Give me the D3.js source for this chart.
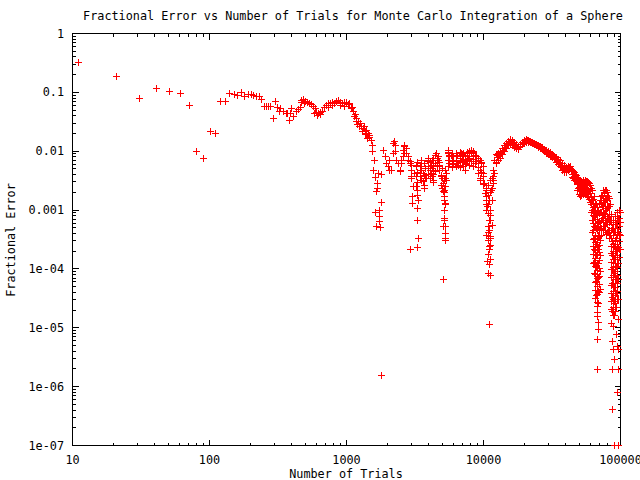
<!DOCTYPE html>
<html><head><meta charset="utf-8">
<script src="https://cdn.jsdelivr.net/npm/d3@7"></script>
<style>
body{margin:0;background:#fff}
svg{display:block}
text{font-family:"DejaVu Sans Mono","Liberation Mono",monospace;font-size:11.8px;fill:#000}
</style>
</head><body>
<svg id="chart" width="640" height="480"></svg>
<script>
const chartTitle = "Fractional Error vs Number of Trials for Monte Carlo Integration of a Sphere";
const xTitle = "Number of Trials";
const yTitle = "Fractional Error";
const xTickValues = [10, 100, 1000, 10000, 100000];
const xTickLabels = ["10", "100", "1000", "10000", "100000"];
const yTickValues = [1, 0.1, 0.01, 0.001, 1e-4, 1e-5, 1e-6, 1e-7];
const yTickLabels = ["1", "0.1", "0.01", "0.001", "1e-04", "1e-05", "1e-06", "1e-07"];

// [trials, fractional error]
const sparseRun = [[11,0.318],[21,0.185],[31,0.078],[41,0.116],[51,0.103],[61,0.095],[71,0.0595],[81,0.0100],[91,0.0076],[101,0.0218],[111,0.020],[121,0.0696],[131,0.0696],[141,0.095],[151,0.0925],[161,0.089],[171,0.099],[181,0.0855],[191,0.0925],[201,0.0925],[211,0.088],[221,0.0855],[231,0.0855],[241,0.075],[251,0.0572],[261,0.0572],[271,0.0572],[281,0.0572],[292,0.0358],[302,0.0696],[313,0.0563],[323,0.0482],[331,0.0542],[346,0.0471],[362,0.0435],[374,0.0435],[382,0.0331],[391,0.0435],[398,0.0529],[412,0.0387],[428,0.0482],[443,0.0521],[458,0.0563],[468,0.0677],[484,0.075]];

const humpRun = [[471,0.0732],[490,0.0643],[501,0.0712],[517,0.0685],[535,0.0643],[553,0.0626],[572,0.0579],[586,0.0435],[592,0.0529],[606,0.0453],[612,0.0408],[627,0.0435],[641,0.0416],[648,0.0453],[670,0.0482],[693,0.055],[717,0.0609],[733,0.0557],[741,0.0643],[767,0.0659],[784,0.059],[793,0.0677],[820,0.0659],[848,0.0712],[877,0.0732],[897,0.0602],[907,0.0677],[938,0.0643],[960,0.0579],[970,0.0677],[1003,0.0677],[1038,0.0626],[1060,0.0651],[1097,0.0563]];

const descentRun = [[1121,0.0464],[1154,0.0424],[1187,0.0358],[1213,0.0281],[1219,0.0322],[1255,0.0295],[1291,0.0265],[1326,0.0243],[1342,0.0265],[1365,0.0218],[1404,0.020],[1411,0.0227],[1443,0.0202],[1460,0.0173],[1484,0.0187],[1527,0.0154],[1542,0.0126],[1542,0.00973],[1595,0.00704],[1569,0.00476],[1633,0.00358],[1690,0.00284],[1680,0.00233],[1661,0.00204],[1795,0.00135],[1623,0.000925],[1756,0.001],[1756,0.00077],[1736,0.000634],[1642,0.000536],[1765,0.000509],[1795,1.54e-6],[1706,0.00419],[1807,0.00408],
[1079,0.0536],[1136,0.0392],[1193,0.0322],[1237,0.0265],[1300,0.0218],[1366,0.0194],[1435,0.0166]];

const clusterRun = [[1856,0.0104],[1910,0.0080],[1966,0.0062],[2020,0.00542],[2077,0.00464],[2077,0.00704],[2138,0.00476],[2196,0.0135],[2196,0.00914],[2222,0.0144],[2260,0.0126],[2260,0.00973],[2325,0.00704],[2388,0.0062],[2458,0.00476],[2458,0.00446],[2529,0.00704],[2529,0.0062],[2598,0.0104],[2598,0.0080],[2673,0.0126],[2673,0.0118],[2673,0.00914],[2750,0.0111],[2750,0.00914],[2825,0.0080],[2825,0.00704],[2908,0.00659],[2908,0.0062],[2990,0.00579],[2990,0.00476],[2990,0.00367],[2990,0.00345],[3074,0.00248],[3040,0.00168],[3040,0.0013],[2956,0.00021],[3162,0.00419],[3253,0.00579],[3253,0.00367],[3286,0.00218],[3344,0.00148],[3286,0.00107],[3286,0.000677],[3344,0.000331],[3286,0.000233]];

const midRun = [[3440,0.00419],[3540,0.0062],[3637,0.00419],[3637,0.00302],[3740,0.00233],[3850,0.00345],[3955,0.00659],[3955,0.00704],[4070,0.00542],[4190,0.00419],[4190,0.00579],[4300,0.00322],[4300,0.00476],[4430,0.0062],[4555,0.00914],[4680,0.00704],[4680,0.008],[4810,0.00542],[4810,0.00579],[4950,0.00367],[4950,0.00392],[4950,0.00265],[5090,0.00284],[5090,0.00204],[5150,0.00218],[5170,0.00168],[5170,0.00148],[5240,0.0013],[5240,0.00126],[5170,0.000659],[5240,0.000521],[5090,0.000521],[5240,0.000403],[5300,0.000331],[5240,0.00031],[5090,6.69e-5],[5390,0.00322],[5390,0.00419],[5530,0.0104],[5530,0.00704],[5530,0.00914],[5690,0.008],[5860,0.00855],[6020,0.0062],[6020,0.00659],[6370,0.008],[6370,0.00542],[6550,0.00579],[6740,0.00752],[6930,0.00914],[7120,0.00659],[7120,0.00855],[7330,0.00476],[7540,0.0062],[7745,0.00752],[7970,0.00914],[8200,0.0104],[8420,0.008],[8420,0.00973],[8670,0.0062],[8920,0.00659],[8920,0.008],[9160,0.00419],[9430,0.00322],[9700,0.0062],[9970,0.00419],
[3216,0.00557],[3216,0.00377],[3216,0.00255],[3325,0.00651],[3325,0.00441],[3325,0.00298],[3325,0.0018],[3440,0.00557],[3440,0.00377],[3557,0.00704],[3557,0.00476],[3557,0.00322],[3680,0.00626],[3680,0.00392],[3680,0.00265],[3800,0.00515],[3800,0.00349],[3940,0.00761],[3940,0.00557],[3940,0.00408],[4070,0.00651],[4070,0.00476],[4070,0.00349],[4210,0.00704],[4210,0.00515],[4210,0.00377],[4350,0.00761],[4350,0.00557],[4350,0.00408],[4350,0.00298],[4500,0.00855],[4500,0.00626],[4500,0.00458],[4650,0.00761],[4650,0.00557],[4810,0.00651],[4810,0.00476],[4980,0.00515],[4980,0.00349],[4980,0.00236],[5150,0.00322],[5150,0.00202],[5150,0.00148],[5150,0.001],[5150,0.000732],[5320,0.00476],[5320,0.00349],[5320,0.00255],[5510,0.00962],[5510,0.00704],[5510,0.00557],[5690,0.00855],[5690,0.00626],[5890,0.00925],[5890,0.00704],[5890,0.00536],[6090,0.00823],[6090,0.00602],[6300,0.00925],[6300,0.00677],[6300,0.00557],[6510,0.00855],[6510,0.00626],[6740,0.00962],[6740,0.00704],[6740,0.00536],[6970,0.00889],[6970,0.00651],[7200,0.00925],[7200,0.00732],[7200,0.00557],[7450,0.00823],[7450,0.00602],[7700,0.00962],[7700,0.00704],[7970,0.0100],[7970,0.00761],[7970,0.00579],[8240,0.00925],[8240,0.00677],[8520,0.00962],[8520,0.00732],[8520,0.00557],[8810,0.00855],[8810,0.00626],[9120,0.00761],[9120,0.00536],[9120,0.00424],[9430,0.00704],[9430,0.00476],[9430,0.00349],[9750,0.00651],[9750,0.00441],[10080,0.00557],[10080,0.00377],[10080,0.00276]];

const dipRun = [[10250,0.00284],[10380,0.00192],[10550,0.00148],[10730,0.00114],[10840,0.000879],[10970,0.000677],[10840,0.000521],[11150,0.000458],[11340,0.000353],[10970,0.000239],[11340,0.000255],[10840,0.000173],[10730,0.000133],[11340,0.000142],[10840,8.45e-5],[11340,7.7e-5],[11150,1.12e-5],[11480,0.00218],[11790,0.00284],[11790,0.00367],[12130,0.00419],[12130,0.00704],[12480,0.0062],[12700,0.00855],[10600,0.00218],[11150,0.00148],[10430,0.001],[11340,0.000823],[10600,0.000377],[11150,0.00021],[10970,0.000117],
[10430,0.00236],[10430,0.00173],[10430,0.00126],[10790,0.00265],[10790,0.0018],[10790,0.00122],[10790,0.000424],[10790,0.00031],[11160,0.00322],[11160,0.00202],[11160,0.001],[11160,0.000677],[11160,0.000335],[11540,0.00349],[11540,0.00236],[11540,0.00148],[11540,0.000557],[11930,0.00476],[11930,0.00322]];

const riseRun = [[12340,0.00889],[12340,0.00651],[12760,0.00925],[12760,0.00704],[13200,0.0100],[13200,0.00761],[13650,0.0112],[13650,0.00889],[14120,0.0126],[14120,0.0100],[14600,0.0137],[14600,0.0112],[15100,0.0148],[15100,0.0126],[15620,0.0160],[15620,0.0131],[16150,0.0154],[16150,0.0126],[16700,0.0142],[16700,0.0117],[17270,0.0131],[17270,0.0112],[17860,0.0117],[17860,0.0108],[18470,0.0131],[18470,0.0122],[19100,0.0142],[19100,0.0131],[19760,0.0154],[19760,0.0137],[20430,0.0160],[20430,0.0142],[21130,0.0154],[21130,0.0142],[21850,0.0148],[21850,0.0142],[22600,0.0142],[22600,0.0137],[23370,0.0137],[23370,0.0131],[24170,0.0131],[24170,0.0126],[25000,0.0126],[25000,0.0117],[25850,0.0122],[25850,0.0112],[26740,0.0117],[26740,0.0108],[27650,0.0108],[27650,0.0100],[28600,0.0104],[28600,0.00925],[29580,0.0100],[29580,0.00889],[30590,0.00962],[30590,0.00823],[31630,0.00889],[31630,0.00791],[32710,0.00823],[32710,0.00732],[33830,0.00791],[33830,0.00651],[34990,0.00732],[34990,0.00602],[36190,0.00704],[36190,0.00557],[37420,0.00626],[37420,0.00536],[37420,0.00476],[38700,0.00579],[38700,0.00495],[38700,0.00441],[40030,0.00536],[40030,0.00441],[41400,0.00557],[41400,0.00476],[42810,0.00557],[42810,0.00515],[44280,0.00476],[44280,0.00408],[44280,0.00363],[45790,0.00441],[45790,0.00377],[45790,0.00322],[47360,0.00392],[47360,0.00310],[48980,0.00349],[48980,0.00287],[48980,0.00236],[50650,0.00298],[50650,0.00227],[50650,0.00173],[52380,0.00298],[52380,0.00236],[52380,0.00210],[54180,0.00298],[54180,0.00236],[54180,0.00194],[56030,0.00310],[56030,0.00236],[56030,0.00187],[57950,0.00298],[57950,0.00218],[57950,0.00166],[59930,0.00265],[59930,0.00194],[59930,0.00137]];

const riseMiddle = [[12550,0.00791],[12980,0.00855],[13420,0.00925],[13880,0.0104],[14360,0.0117],[14850,0.0131],[15360,0.0142],[15880,0.0142],[16420,0.0134],[16980,0.0126],[17560,0.0117],[18160,0.0119],[18780,0.0131],[19430,0.0142],[20090,0.0148],[20780,0.0151],[21490,0.0148],[22220,0.0142],[22980,0.0137],[23770,0.0131],[24580,0.0126],[25420,0.0119],[26290,0.0114],[27190,0.0108],[28120,0.0102],[29080,0.00962],[30080,0.00925],[31110,0.00855],[32170,0.00807],[33270,0.00746],[34410,0.0069],[35590,0.00638],[36800,0.00579],[38060,0.00515],[39360,0.00486],[40710,0.00495],[42100,0.00525],[43540,0.00458],
[45030,0.00458],[45030,0.00349],[46570,0.00408],[46570,0.00322],[48160,0.00363],[48160,0.00276],[48160,0.00218],[49810,0.00322],[49810,0.00245],[49810,0.00187],[51510,0.0031],[51510,0.00236],[51510,0.0018],[53270,0.00322],[53270,0.00245],[53270,0.00187],[55100,0.00322],[55100,0.00245],[55100,0.00187],[56980,0.0031],[56980,0.00227],[56980,0.00173],[58930,0.00287],[58930,0.0021],[58930,0.00154]];

const tailRun = [[61980,0.00218],[61980,0.00148],[61980,0.001],[61980,0.000677],[61980,0.000424],[64100,0.00173],[64100,0.00117],[64100,0.000791],[64100,0.000536],[64100,0.000335],[64100,0.00021],[64100,0.000131],[64100,8.23e-5],[66290,0.00126],[66290,0.000855],[66290,0.000495],[66290,0.000265],[66290,0.000166],[66290,0.000104],[66290,6.02e-5],[66290,3.49e-5],[68560,0.001],[68560,0.000626],[68560,0.000363],[68560,0.00021],[68560,0.000122],[68560,7.04e-5],[68560,4.08e-5],[68560,2.55e-5],[70900,0.00148],[70900,0.000925],[70900,0.000536],[70900,0.00031],[70900,0.000166],[70900,8.89e-5],[70900,4.41e-5],
[67400,2.33e-5],[67400,1.8e-5],[68000,1.56e-5],[68600,1.22e-5],[68600,9.25e-6],[67700,6.3e-6],[67700,1.94e-6],
[73330,0.0018],[73330,0.00117],[73330,0.000732],[75830,0.00202],[75830,0.00137],[75830,0.000855],[75830,0.000536],[78430,0.00218],[78430,0.0016],[78430,0.001],[78430,0.000626],[78430,0.000392],[81110,0.00173],[81110,0.00117],[81110,0.000732],[81110,0.000458],[83880,0.00122],[83880,0.000677],[83880,0.000363],
[86750,0.000495],[86750,0.000287],[86750,0.000166],[86750,9.62e-5],[86750,5.57e-5],[86750,3.22e-5],[86750,1.87e-5],[89720,0.000424],[89720,0.000245],[89720,0.000142],[89720,8.23e-5],[89720,4.76e-5],[89720,2.76e-5],[89720,1.6e-5],[92780,0.000579],[92780,0.000335],[92780,0.000194],[92780,0.000112],[92780,6.51e-5],[92780,3.77e-5],[92780,2.18e-5],[95960,0.000732],[95960,0.000424],[95960,0.000227],[95960,0.000122],[95960,6.51e-5],[95960,2.98e-5],[99240,0.000925],[99240,0.000626],[99240,0.000377],[99240,0.00021],
[87200,5.86e-6],[88700,4.24e-6],[90200,2.87e-6],[87200,1.94e-6],[96500,1.94e-6],[93900,7.61e-6],[95500,4.82e-6],[86000,1.2e-5],[88700,1.06e-5],[96500,1.37e-5],[96500,4.24e-6],[95500,7.82e-7],[87200,4.08e-7],[89720,1.0e-7],[95960,1.0e-7]];

const tailFill = [[60950,0.00236],[60950,0.00173],[60950,0.00126],[60950,0.000925],
[63030,0.00154],[63030,0.00112],[63030,0.000823],[63030,0.000602],[63030,0.000441],[63030,0.000322],[63030,0.000236],[63030,0.000173],[63030,0.000126],
[65180,0.00131],[65180,0.000962],[65180,0.000704],[65180,0.000515],[65180,0.000377],[65180,0.000276],[65180,0.000202],[65180,0.000148],[65180,0.000108],[65180,7.91e-5],[65180,5.79e-5],[65180,4.24e-5],[65180,3.1e-5],
[67420,0.00112],[67420,0.000823],[67420,0.000602],[67420,0.000441],[67420,0.000322],[67420,0.000236],[67420,0.000173],[67420,0.000126],[67420,9.25e-5],[67420,6.77e-5],[67420,4.95e-5],[67420,3.63e-5],[67420,2.65e-5],
[69720,0.00122],[69720,0.000889],[69720,0.000651],[69720,0.000476],[69720,0.000349],[69720,0.000255],[69720,0.000187],[69720,0.000137],[69720,0.0001],[69720,7.32e-5],[69720,5.36e-5],[69720,3.92e-5],
[72100,0.00173],[72100,0.00126],[72100,0.000925],[72100,0.000677],[72100,0.000495],[72100,0.000363],
[74570,0.00218],[74570,0.0016],[74570,0.00117],[74570,0.000855],[74570,0.000626],[74570,0.000458],
[77120,0.00218],[77120,0.0016],[77120,0.00117],[77120,0.000855],[77120,0.000626],[77120,0.000458],
[79750,0.00202],[79750,0.00148],[79750,0.00108],[79750,0.000791],[79750,0.000579],[79750,0.000424],
[82480,0.0016],[82480,0.00117],[82480,0.000855],[82480,0.000626],[82480,0.000458],[82480,0.000335],
[85300,0.000855],[85300,0.000626],[85300,0.000458],[85300,0.000335],[85300,0.000245],[85300,0.00018],[85300,0.000131],[85300,9.62e-5],[85300,7.04e-5],[85300,5.15e-5],[85300,3.77e-5],[85300,2.76e-5],[85300,2.02e-5],
[88220,0.000677],[88220,0.000495],[88220,0.000363],[88220,0.000265],[88220,0.000194],[88220,0.000142],[88220,0.000104],[88220,7.61e-5],[88220,5.57e-5],[88220,4.08e-5],[88220,2.98e-5],[88220,2.18e-5],[88220,1.6e-5],
[91240,0.000791],[91240,0.000579],[91240,0.000424],[91240,0.00031],[91240,0.000227],[91240,0.000166],[91240,0.000122],[91240,8.89e-5],[91240,6.51e-5],[91240,4.76e-5],[91240,3.49e-5],[91240,2.55e-5],[91240,1.87e-5],
[94360,0.000925],[94360,0.000677],[94360,0.000495],[94360,0.000363],[94360,0.000265],[94360,0.000194],[94360,0.000142],[94360,0.000104],[94360,7.61e-5],[94360,5.57e-5],[94360,4.08e-5],[94360,2.98e-5],
[97590,0.001],[97590,0.000732],[97590,0.000536],[97590,0.000392],[97590,0.000287],[97590,0.00021],[97590,0.000154]];

const allPoints = [].concat(sparseRun, humpRun, descentRun, clusterRun, midRun, dipRun, riseRun, riseMiddle, tailRun, tailFill);

const svg = d3.select("#chart");
const plotLeft = 72.5, plotRight = 620.5, plotTop = 33.5, plotBottom = 445.5;
const x = d3.scaleLog().domain([10, 100000]).range([plotLeft, plotRight]);
const y = d3.scaleLog().domain([1e-7, 1]).range([plotBottom, plotTop]);

const g = svg.append("g").attr("shape-rendering", "crispEdges");

const xMinor = [], yMinor = [];
for (let e = 1; e < 5; e++) for (let k = 2; k <= 9; k++) xMinor.push(k * Math.pow(10, e));
for (let e = -7; e < 0; e++) for (let k = 2; k <= 9; k++) yMinor.push(k * Math.pow(10, e));
const majorLen = 6, minorLen = 3;

function tickPathX(xs, len) {
  return xs.map(v => {
    const px = Math.round(x(v) - 0.5) + 0.5;
    return `M${px},${plotBottom}V${plotBottom - len}M${px},${plotTop}V${plotTop + len}`;
  }).join("");
}
function tickPathY(ys, len) {
  return ys.map(v => {
    const py = Math.round(y(v) - 0.5) + 0.5;
    return `M${plotLeft},${py}H${plotLeft + len}M${plotRight},${py}H${plotRight - len}`;
  }).join("");
}
g.append("path").attr("d", tickPathX(xMinor, minorLen) + tickPathX(xTickValues, majorLen)
  + tickPathY(yMinor, minorLen) + tickPathY(yTickValues, majorLen))
  .attr("stroke", "#000").attr("fill", "none");

g.append("rect").attr("x", plotLeft).attr("y", plotTop).attr("width", plotRight - plotLeft).attr("height", plotBottom - plotTop)
  .attr("fill", "none").attr("stroke", "#000");

svg.append("g").selectAll("text").data(xTickValues).join("text")
  .attr("x", d => x(d)).attr("y", 464).attr("text-anchor", "middle")
  .text((d, i) => xTickLabels[i]);
svg.append("g").selectAll("text").data(yTickValues).join("text")
  .attr("x", 64).attr("y", d => y(d) + 4).attr("text-anchor", "end")
  .text((d, i) => yTickLabels[i]);

svg.append("text").attr("x", 353).attr("y", 20).attr("text-anchor", "middle").text(chartTitle);
svg.append("text").attr("x", 346).attr("y", 478).attr("text-anchor", "middle").text(xTitle);
svg.append("text").attr("transform", "translate(15,240) rotate(-90)").attr("text-anchor", "middle").text(yTitle);

const pts = svg.append("g").attr("shape-rendering", "crispEdges");
pts.append("path")
  .attr("d", allPoints.map(d => {
    const cx = Math.floor(x(d[0])), cy = Math.floor(y(d[1]));
    return `M${cx - 3},${cy + 0.5}h7M${cx + 0.5},${cy - 3}v7`;
  }).join(""))
  .attr("stroke", "#ff0000").attr("stroke-width", 1).attr("fill", "none");
</script>
</body></html>
